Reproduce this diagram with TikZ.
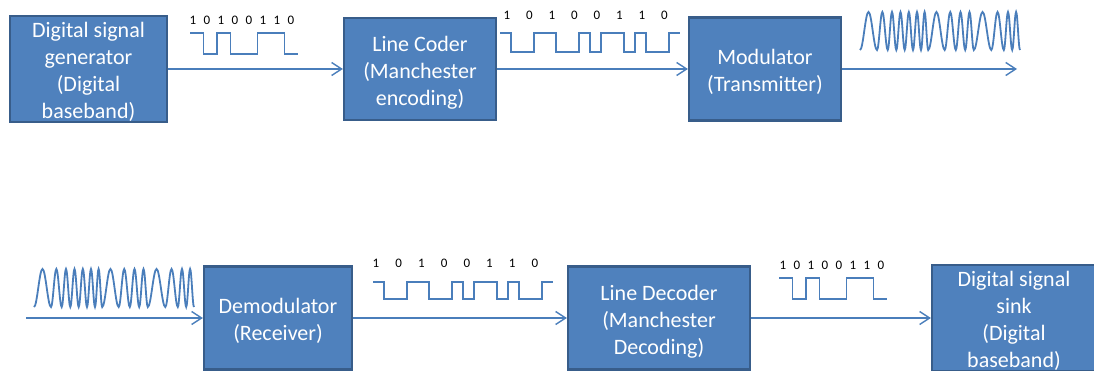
\documentclass[tikz,border=0pt]{standalone}
\usepackage{fontspec}
\setmainfont{Carlito}
\usetikzlibrary{arrows.meta}
\definecolor{boxfill}{HTML}{4F81BD}
\definecolor{boxedge}{HTML}{385D8A}
\definecolor{wire}{HTML}{4A7EBB}
% tall strut that lowers a block's text a little inside its box
\newcommand\toppad{\rule{0pt}{22pt}}
\begin{document}
\begin{tikzpicture}[x=1pt,y=-1pt,
  block/.style={draw=boxedge, fill=boxfill, line width=2.2pt, text=white,
    align=center, font=\fontsize{22}{27}\selectfont, inner sep=0pt},
  link/.style={draw=wire, line width=1.4pt,
    -{Straight Barb[length=10pt,width=13pt,line width=1.4pt]}},
  sig/.style={draw=wire, line width=1.8pt},
  bit/.style={font=\fontsize{13}{15}\selectfont, text=black, inner sep=0pt},
  % NRZ waveform of 10100110, one bit = 13.5, high-to-low = 21
  nrz/.pic={\draw[sig, x=13.5pt, y=-21pt]
    (0,0) -- (1,0) -- (1,1) -- (2,1) -- (2,0) -- (3,0) -- (3,1) -- (5,1)
    -- (5,0) -- (7,0) -- (7,1) -- (8,1);},
  % Manchester waveform of 10100110, one half bit = 11.25
  manch/.pic={\draw[sig, x=11.25pt, y=-\pgfkeysvalueof{/tikz/swing}pt]
    (0,0) -- (1,0) -- (1,1) -- (3,1) -- (3,0) -- (5,0) -- (5,1) -- (7,1)
    -- (7,0) -- (8,0) -- (8,1) -- (9,1) -- (9,0) -- (11,0) -- (11,1)
    -- (12,1) -- (12,0) -- (13,0) -- (13,1) -- (15,1) -- (15,0) -- (16,0);},
  swing/.initial=19,
  % frequency-shift keyed carrier, listed by its troughs
  fsk/.pic={\draw[sig] (0,19)
    foreach \a/\b in {0/17,17/27.7,27.7/36.3,36.3/44.7,44.7/53,53/61,
      61/68.2,68.2/84.7,84.7/95.8,95.8/105.2,105.2/113.8,113.8/131.3,
      131.3/143.8,143.8/152.2,152.2/160}
    { cos ({(3*\a+\b)/4},0) sin ({(\a+\b)/2},-19)
      cos ({(\a+3*\b)/4},0) sin (\b,19) };}]
\useasboundingbox (0,0) rectangle (1094,371);

% transmit chain
\node[block, minimum width=157pt, minimum height=104pt] (gen) at (88.5,69)
  {\toppad Digital signal\\generator\\(Digital\\baseband)};
\node[block, minimum width=152pt, minimum height=102pt] (enc) at (420,69)
  {\toppad Line Coder\\(Manchester\\encoding)};
\node[block, minimum width=152pt, minimum height=103pt] (mod) at (765,69)
  {\toppad Modulator\\(Transmitter)};
\coordinate (txout) at (1017,69);

% receive chain
\coordinate (rxin) at (26,318);
\node[block, minimum width=148pt, minimum height=103pt] (dem) at (278,318)
  {\toppad Demodulator\\(Receiver)};
\node[block, minimum width=182pt, minimum height=103pt] (dec) at (659,318)
  {\toppad Line Decoder\\(Manchester\\Decoding)};
\node[block, minimum width=164pt, minimum height=104pt] (sink) at (1014,318)
  {\toppad Digital signal\\sink\\(Digital\\baseband)};

% connectors
\draw[link] (gen.east) -- (enc.west);
\draw[link] (enc.east) -- (mod.west);
\draw[link] (mod.east) -- (txout);
\draw[link] (rxin) -- (dem.west);
\draw[link] (dem.east) -- (dec.west);
\draw[link] (dec.east) -- (sink.west);

% signals along the links
\pic at (190,33) {nrz};
\pic[swing=19] at (500,33) {manch};
\pic at (860,31) {fsk};
\pic at (34,288) {fsk};
\pic[swing=17] at (373,282) {manch};
\pic at (779,278) {nrz};

% bit labels
\foreach \d [count=\i from 0] in {1,0,1,0,0,1,1,0} {
  \node[bit] (ta\i) at ({193+14*\i},20) {\d};
  \node[bit] (tb\i) at ({507+22.5*\i},15) {\d};
  \node[bit] (ra\i) at ({376+22.7*\i},263) {\d};
  \node[bit] (rb\i) at ({783+14*\i},265) {\d};
}
\end{tikzpicture}
\end{document}
